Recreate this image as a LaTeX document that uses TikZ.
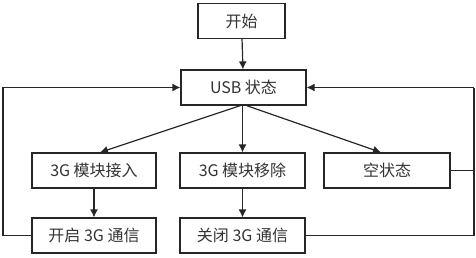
\documentclass[tikz,border=0pt]{standalone}
\usepackage{fontspec}
\setmainfont{Noto Sans CJK SC}
\usetikzlibrary{arrows.meta}
\begin{document}
\begin{tikzpicture}[x=1pt,y=-1pt,
  box/.style={draw=black!85,line width=1.2pt,minimum height=35pt,inner sep=0pt,font=\fontsize{16}{18}\selectfont,text=black!80},
  conn/.style={draw=black!85,line width=1.2pt},
  arr/.style={conn,-{Latex[length=8pt,width=8pt]}}]
\useasboundingbox (0,0) rectangle (476,257);
\node[box,minimum width=87pt] (start) at (241.5,21) {开始};
\node[box,minimum width=125pt] (usb) at (243.5,87.5) {USB 状态};
\node[box,minimum width=124pt] (a1) at (94,170.5) {3G 模块接入};
\node[box,minimum width=125pt] (a2) at (242.5,170.5) {3G 模块移除};
\node[box,minimum width=126pt] (a3) at (387,170.5) {空状态};
\node[box,minimum width=124pt] (b1) at (94,235.5) {开启 3G 通信};
\node[box,minimum width=125pt] (b2) at (242.5,235.5) {关闭 3G 通信};
\coordinate (l1) at (3,235.5);
\coordinate (l2) at (3,87.5);
\coordinate (r1) at (474,235.5);
\coordinate (r2) at (474,87.5);
\draw[arr] (start) -- (usb);
\draw[arr] ([xshift=-3pt]usb.south) -- ([xshift=6pt]a1.north);
\draw[arr] (usb.south -| a2) -- (a2);
\draw[arr] ([xshift=3pt]usb.south) -- ([xshift=-6pt]a3.north);
\draw[arr] (a1) -- (b1);
\draw[arr] (a2) -- (b2);
\draw[arr] (b1.west) -- (l1) -- (l2) -- (usb.west);
\draw[conn] (b2.east) -- (r1) -- (r2);
\draw[conn] (a3.east) -- (a3.east -| r1);
\draw[arr] (r2) -- (usb.east);
\end{tikzpicture}
\end{document}
